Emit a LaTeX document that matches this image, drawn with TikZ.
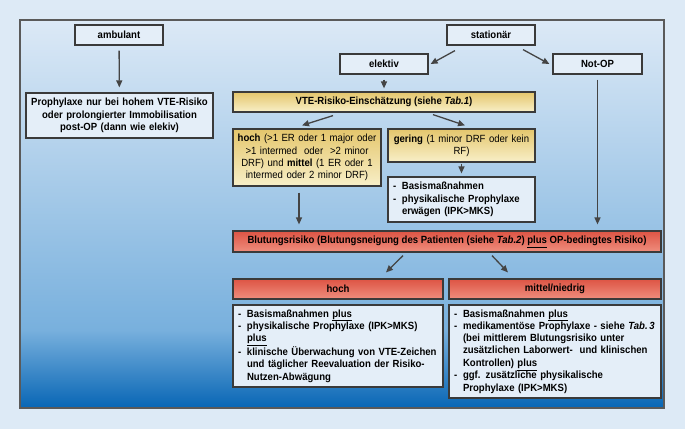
\documentclass[tikz,border=0pt]{standalone}
\usepackage{fontspec}
\setmainfont{Liberation Sans}[FakeStretch=0.92]
\usetikzlibrary{arrows.meta}

\definecolor{pagebg}{HTML}{DDEAF6}
\definecolor{frametop}{HTML}{DCE9F6}
\definecolor{framemid}{HTML}{78B0DD}
\definecolor{framebot}{HTML}{0866B5}
\definecolor{frameline}{HTML}{5A5A5A}
\definecolor{boxline}{HTML}{3A3A3A}
\definecolor{boxfill}{HTML}{E4EEF8}
\definecolor{goldtop}{HTML}{E4C66C}
\definecolor{goldbot}{HTML}{F8EFC8}
\definecolor{redtop}{HTML}{DD5444}
\definecolor{redbot}{HTML}{EF8E7E}
\definecolor{arrowc}{HTML}{444444}

% list item: dash plus hanging text block of width #1
\newcommand{\li}[2]{\makebox[9pt][l]{-}\parbox[t]{#1}{\raggedright #2}}

\begin{document}
\begin{tikzpicture}[x=1pt, y=-1pt,
    box/.style={draw=boxline, line width=1.2pt, fill=boxfill, inner xsep=4pt, inner ysep=2pt,
      font=\fontsize{10.4}{12.3}\selectfont\bfseries, align=center},
    goldbox/.style={box, top color=goldtop, bottom color=goldbot},
    redbox/.style={box, top color=redtop, bottom color=redbot},
    listbox/.style={box, align=left, inner xsep=5pt},
    arr/.style={draw=arrowc, line width=1.3pt, -{Triangle[length=7pt,width=6pt]}}]

    % page and frame
    \useasboundingbox[fill=pagebg] (0,0) rectangle (685,429);
    \shade[top color=frametop, bottom color=framemid] (20,20) rectangle (664,330);
    \shade[top color=framemid, bottom color=framebot] (20,330) rectangle (664,408);
    \draw[frameline, line width=1.5pt] (20,20) rectangle (664,408);

    % top row
    \node[box, minimum width=88pt, minimum height=20pt] (amb) at (119,35) {ambulant};
    \node[box, minimum width=88pt, minimum height=20pt] (stat) at (491,35) {station\"ar};
    \node[box, minimum width=88pt, minimum height=20pt] (elek) at (384,64) {elektiv};
    \node[box, minimum width=89pt, minimum height=20pt] (notop) at (597.5,64) {Not-OP};

    \node[box, minimum width=187pt, minimum height=45pt, text width=179pt] (proph) at (119.5,115.5)
      {Prophylaxe nur bei hohem VTE-Risiko\\ oder prolongierter Immobilisation\\ post-OP (dann wie elekiv)};

    % VTE risk
    \node[goldbox, minimum width=302pt, minimum height=20pt] (vte) at (384,102)
      {VTE-Risiko-Einsch\"atzung (siehe \textit{Tab.1})};
    \node[goldbox, minimum width=148pt, minimum height=57pt, text width=140pt] (hochrf) at (307,157.5)
      {hoch \mdseries(>1 ER oder 1 major oder\\ >1 intermed\ \ oder\ \ >2 minor\\ DRF) und \bfseries mittel \mdseries(1 ER oder 1\\ intermed oder 2 minor DRF)};
    \node[goldbox, minimum width=147pt, minimum height=33pt, text width=139pt] (gering) at (461.5,145.5)
      {gering \mdseries(1 minor DRF oder kein\\ RF)};
    \node[listbox, minimum width=147pt, minimum height=45pt, text width=137pt] (basis) at (461.5,199.5)
      {\li{128pt}{Basisma\ss nahmen}\\
       \li{128pt}{physikalische Prophylaxe\\ erw\"agen (IPK>MKS)}};

    % bleeding risk
    \node[redbox, minimum width=428pt, minimum height=21pt] (blut) at (447,241.5)
      {Blutungsrisiko (Blutungsneigung des Patienten (siehe \textit{Tab.2}) \underline{plus} OP-bedingtes Risiko)};
    \node[redbox, minimum width=210pt, minimum height=20pt] (bhoch) at (338,289) {hoch};
    \node[redbox, minimum width=212pt, minimum height=20pt] (bmittel) at (555,289) {mittel/niedrig};

    \node[listbox, minimum width=210pt, minimum height=82pt, text width=200pt] (lhoch) at (338,346)
      {\li{191pt}{Basisma\ss nahmen \underline{plus}}\\
       \li{191pt}{physikalische Prophylaxe (IPK>MKS)\\ \underline{plus}}\\
       \li{191pt}{klinische \"Uberwachung von VTE-Zeichen\\ und t\"aglicher Reevaluation der Risiko-\\ Nutzen-Abw\"agung}};
    \node[listbox, minimum width=212pt, minimum height=93pt, text width=202pt] (lmittel) at (555,351.5)
      {\li{193pt}{Basisma\ss nahmen \underline{plus}}\\
       \li{193pt}{medikament\"ose Prophylaxe - siehe \textit{Tab.\,3}\\ (bei mittlerem Blutungsrisiko unter\\ zus\"atzlichen Laborwert-\ \ und klinischen\\ Kontrollen) \underline{plus}}\\
       \li{193pt}{ggf. zus\"atzliche physikalische\\ Prophylaxe (IPK>MKS)}};

    % arrows
    \draw[arr, shorten <=5pt, shorten >=5pt] (amb) -- (proph);
    \draw[arr] ([xshift=-36pt,yshift=-5pt]stat.south) -- ([xshift=2pt]elek.east);
    \draw[arr] ([xshift=32pt,yshift=-4pt]stat.south) -- ([xshift=-3pt]notop.west);
    \draw[arr, shorten <=5pt, shorten >=3pt] (elek) -- (vte);
    \draw[arr] ([xshift=-51pt,yshift=-3pt]vte.south) -- ([xshift=-5pt,yshift=3pt]hochrf.north);
    \draw[arr] ([xshift=49pt,yshift=-2pt]vte.south) -- ([xshift=3.5pt,yshift=3pt]gering.north);
    \draw[arr, shorten <=1pt, shorten >=3pt] (gering) -- (basis);
    \draw[arr, shorten <=6pt, shorten >=6pt] ([xshift=-8pt]hochrf.south) -- ([xshift=-8pt]hochrf.south |- blut.north);
    \draw[arr, shorten <=5pt, shorten >=6pt] (notop.south) -- (notop.south |- blut.north);
    \draw[arr] ([xshift=-44pt,yshift=-3pt]blut.south) -- ([xshift=48pt,yshift=6pt]bhoch.north);
    \draw[arr] ([xshift=45pt,yshift=-3pt]blut.south) -- ([xshift=-47pt,yshift=6pt]bmittel.north);
\end{tikzpicture}
\end{document}
